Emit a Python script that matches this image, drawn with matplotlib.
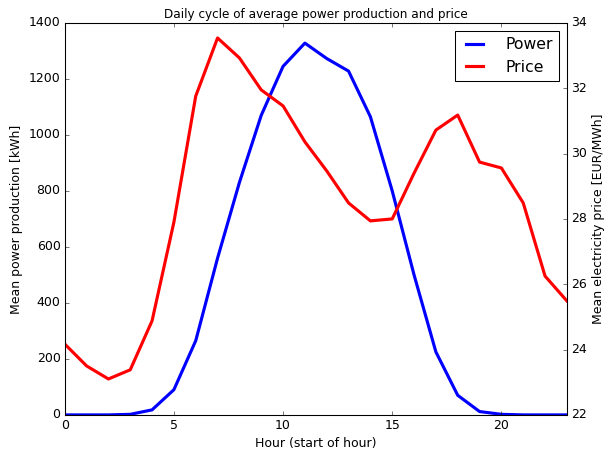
import matplotlib
matplotlib.use("Agg")
import matplotlib.pyplot as plt

plt.style.use("classic")

hours = list(range(24))
power = [0, 0, 0, 2, 18, 90, 265, 560, 830, 1070, 1245, 1328,
         1273, 1228, 1065, 800, 500, 225, 70, 12, 2, 0, 0, 0]
price = [24.17, 23.5, 23.1, 23.38, 24.88, 27.9, 31.76, 33.54, 32.93, 31.95,
         31.46, 30.36, 29.47, 28.49, 27.94, 28.0, 29.4, 30.72, 31.18, 29.74,
         29.56, 28.49, 26.25, 25.49]

fig, ax = plt.subplots(figsize=(605 / 75, 450 / 75), dpi=75)
fig.subplots_adjust(left=0.107, right=0.937, bottom=0.078, top=0.949)

l1, = ax.plot(hours, power, color="b", lw=3, label="Power")
ax.set_xlim(0, 23)
ax.set_ylim(0, 1400)
ax.set_xlabel("Hour (start of hour)")
ax.set_ylabel("Mean power production [kWh]")
ax.set_title("Daily cycle of average power production and price", fontsize=11.5)

ax2 = ax.twinx()
l2, = ax2.plot(hours, price, color="r", lw=3, label="Price")
ax2.set_xlim(0, 23)
ax2.set_ylim(22, 34)
ax2.set_ylabel("Mean electricity price [EUR/MWh]")

ax.legend([l1, l2], ["Power", "Price"], loc="upper right", fontsize=15,
          handlelength=1.7, handletextpad=1.1)

plt.savefig("out.png", dpi=75)
